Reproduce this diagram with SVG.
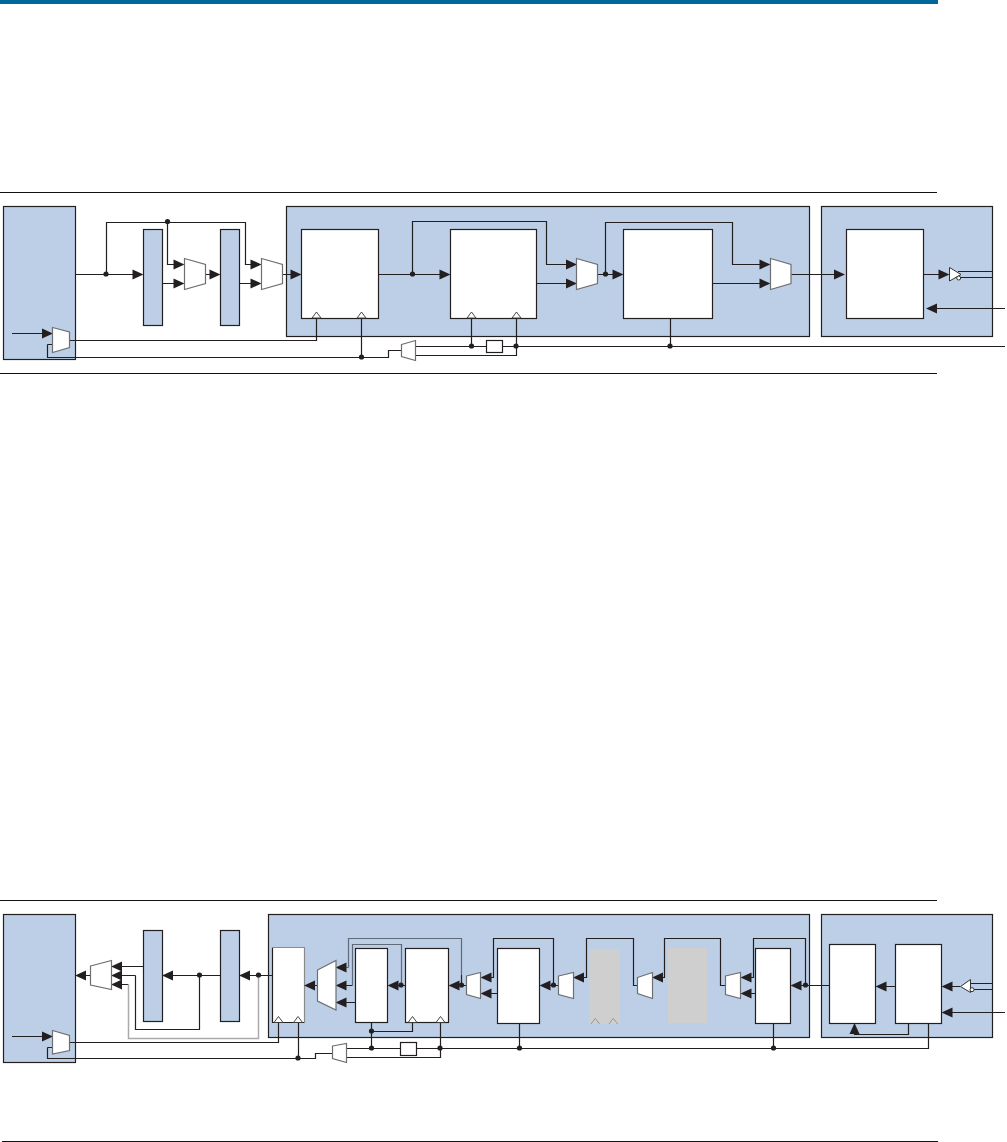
<svg xmlns="http://www.w3.org/2000/svg" width="1007" height="1142" viewBox="0 0 1007 1142">
<style>
.rule{stroke:#111;stroke-width:1.1;fill:none}
.p{fill:#bdcfe6;stroke:#231f20;stroke-width:1.2}
.b{fill:#fff;stroke:#231f20;stroke-width:1.2}
.m{fill:#fff;stroke:#6d6e71;stroke-width:1.2}
.k{fill:#fff;stroke:#333;stroke-width:1}
.w{fill:none;stroke:#231f20;stroke-width:1.2}
.g{fill:none;stroke:#aaa;stroke-width:1.5}
.d{fill:none;stroke:#5f6b78;stroke-width:1.2}
.c{fill:#fff;stroke:#333;stroke-width:.9}
.gb{fill:#cfcfcf;stroke:none}
.gc{fill:none;stroke:#999;stroke-width:1}
.dot{fill:#231f20}
.a{fill:#231f20}
</style>
<defs>
<circle id="dot" r="2.6" class="dot"/>
<polygon id="ar" class="a" points="0.5,0 -10.5,-5 -10.5,5"/>
<polygon id="al" class="a" points="-0.5,0 10.5,-5 10.5,5"/>
<polygon id="au" class="a" points="0,-0.5 -5,10.5 5,10.5"/>
<polygon id="clk" class="c" points="-4.5,0 0,-6 4.5,0"/>
</defs>

<rect id="top-band" x="0" y="0" width="938" height="4" fill="#00679a"/>
<g id="rules">
<path class="rule" d="M0 192.5H937M0 373.5H937M0 900.5H937M2 1141.5H938"/>
</g>

<g id="top-diagram">
<g id="t-left"><rect class="p" x="3.5" y="206.5" width="72" height="153"/></g>
<g id="t-block1"><rect class="p" x="143.5" y="229.5" width="19" height="96"/></g>
<g id="t-block2"><rect class="p" x="220.5" y="229.5" width="19" height="96"/></g>
<g id="t-panel1"><rect class="p" x="286.5" y="206.5" width="523" height="130"/></g>
<g id="t-panel2"><rect class="p" x="821.5" y="206.5" width="171" height="130"/></g>
<g id="t-box1"><rect class="b" x="301.5" y="229.5" width="77" height="89"/></g>
<g id="t-box2"><rect class="b" x="450.5" y="229.5" width="86" height="89"/></g>
<g id="t-box3"><rect class="b" x="623.5" y="229.5" width="89" height="89"/></g>
<g id="t-box4"><rect class="b" x="846.5" y="229.5" width="77" height="89"/></g>

<g id="t-connectors">
<path class="w" d="M75.5 274.5H134M106.5 274.5V222.5H245.5V264.5H252M167.5 222.5V264.5H175M162.5 283.5H175M205.5 274.5H211M239.5 283.5H252M282.5 274.5H292"/>
<path class="w" d="M12 333.5H43M70 340.5H316.5V318M47.5 344.5H52.5M47.5 344.5V357.5H388.5V350.5H401.5M361.5 357.5V318"/>
<path class="w" d="M415.5 346.5H486.5M502.5 346.5H1005M415.5 355.5H516.5V318M471.5 346.5V318M670.5 346.5V318"/>
<path class="w" d="M378.5 274.5H441M412.5 274.5V221.5H546.5V264.5H567M536.5 283.5H567M597.5 274.5H614M605.5 274.5V222.5H732.5V264.5H761M712.5 283.5H761M791.5 274.5H835M923.5 274.5H940M1005 308.5H936M958 271.5H992.5M960 277.5H992.5"/>
<use href="#ar" x="143" y="274.5"/>
<use href="#ar" x="184" y="264.5"/>
<use href="#ar" x="184" y="283.5"/>
<use href="#ar" x="220" y="274.5"/>
<use href="#ar" x="261" y="264.5"/>
<use href="#ar" x="261" y="283.5"/>
<use href="#ar" x="301" y="274.5"/>
<use href="#ar" x="52.5" y="333.5"/>
<use href="#ar" x="450" y="274.5"/>
<use href="#ar" x="576.5" y="264.5"/>
<use href="#ar" x="576.5" y="283.5"/>
<use href="#ar" x="623" y="274.5"/>
<use href="#ar" x="770" y="264.5"/>
<use href="#ar" x="770" y="283.5"/>
<use href="#ar" x="844.5" y="274.5"/>
<use href="#ar" x="949" y="274.5"/>
<use href="#al" x="926.5" y="308.5"/>
<use href="#dot" x="106" y="274"/>
<use href="#dot" x="167.5" y="221.5"/>
<use href="#dot" x="361.5" y="357"/>
<use href="#dot" x="412.5" y="274"/>
<use href="#dot" x="605.5" y="274"/>
<use href="#dot" x="471.5" y="346"/>
<use href="#dot" x="516" y="346"/>
<use href="#dot" x="670" y="346"/>
<use href="#clk" x="316.5" y="318"/>
<use href="#clk" x="361.5" y="318"/>
<use href="#clk" x="471.5" y="318"/>
<use href="#clk" x="516.5" y="318"/>
</g>
<g id="t-mux1"><polygon class="m" points="184.5,258.5 205.5,264.5 205.5,283.5 184.5,289.5"/></g>
<g id="t-mux2"><polygon class="m" points="261.5,258.5 282.5,264.5 282.5,283.5 261.5,289.5"/></g>
<g id="t-mux3"><polygon class="m" points="576.5,258.5 597.5,264.5 597.5,283.5 576.5,289.5"/></g>
<g id="t-mux4"><polygon class="m" points="770.5,258.5 791,264.5 791,283.5 770.5,289.5"/></g>
<g id="t-mux5"><polygon class="m" points="52.5,327.5 69.5,332 69.5,347.5 52.5,352.5"/></g>
<g id="t-mux6"><polygon class="m" points="401.5,344.5 415.5,340.5 415.5,360.5 401.5,356.5"/></g>
<g id="t-delay"><rect class="b" x="486.5" y="340.5" width="16" height="12"/></g>
<g id="t-buffer"><polygon class="k" points="949.5,267.5 961,274.5 949.5,281"/><circle class="k" cx="958.7" cy="278" r="2"/></g>
</g>

<g id="bottom-diagram">
<g id="b-left"><rect class="p" x="3.5" y="914.5" width="72" height="148"/></g>
<g id="b-block1"><rect class="p" x="143.5" y="930.5" width="19" height="91"/></g>
<g id="b-block2"><rect class="p" x="220.5" y="930.5" width="19" height="91"/></g>
<g id="b-panel1"><rect class="p" x="268.5" y="914.5" width="541" height="123"/></g>
<g id="b-panel2"><rect class="p" x="821.5" y="914.5" width="171" height="123"/></g>
<g id="b-boxA"><rect x="272.5" y="947.5" width="32" height="75" fill="#fff"/><path class="w" d="M272.5 947.5V1022.5H304.5"/><path fill="none" stroke="#8a8a8a" stroke-width="1.2" d="M272 947.5H304.5V1022.5"/></g>
<g id="b-boxB"><rect class="b" x="355.5" y="948.5" width="32" height="74"/></g>
<g id="b-boxC"><rect class="b" x="405.5" y="948.5" width="43" height="74"/></g>
<g id="b-boxD"><rect class="b" x="497.5" y="948.5" width="42" height="75"/></g>
<g id="b-grey1"><rect class="gb" x="589" y="949" width="31" height="75"/><path class="gc" d="M591 1024L595.3 1018.3 599.5 1024M609 1024L613.3 1018.3 617.7 1024"/></g>
<g id="b-grey2"><rect class="gb" x="668" y="948" width="39" height="75"/></g>
<g id="b-boxE"><rect class="b" x="755.5" y="948.5" width="35" height="75"/></g>
<g id="b-boxF"><rect class="b" x="829.5" y="944.5" width="46" height="79"/></g>
<g id="b-boxG"><rect class="b" x="895.5" y="944.5" width="46" height="79"/></g>

<g id="b-connectors">
<path class="w" d="M86 975.5H90.5M143.5 966.5H121M135.5 975.5H121M135.5 975.5V1029.5H199.5V975.5M128.5 984.5H121"/>
<path class="g" d="M128.5 984.5V1038.5H258.5V975.5"/>
<path class="w" d="M272.5 975.5H249M220.5 975.5H172"/>
<path class="w" d="M12 1036.5H43M70 1042.5H278.5V1023M47.5 1047.5H52.5M47.5 1047.5V1058.5H315.5V1053.5H332.5M298.5 1058.5V1023"/>
<path class="w" d="M317 985.5H314M355.5 1002.5H346M352.5 985.5H346"/>
<path class="d" d="M352.5 985.5V944.5H401.5V985.5M348.5 967.5H346M348.5 967.5V938.5H461.5V975"/>
<path class="w" d="M461.5 975V985.5M405.5 985.5H397M466.5 985.5H458"/>
<path class="w" d="M491 977.5H493.5V938.5H553.5V985.5M497.5 993.5H491M558.5 985.5H549M583 977.5H586.5V938.5H633.5V985.5H638M662 977.5H664.5V938.5H720.5V985.5H726M750 977.5H753.5V938.5H805.5V985.5M755.5 993.5H750M829.5 985.5H801"/>
<path class="w" d="M895.5 986.5H886M960 986.5H951M970 983.5H992.5M974 989.5H992.5M1005 1012.5H951"/>
<path class="w" d="M854.5 1030V1034.5H908.5V1023.5M928.5 1023.5V1048.5H416.5M400.5 1048.5H346.5M346.5 1057.5H440.5V1023M371.5 1022.5V1048.5M371.5 1031.5H412.5V1023M519.5 1023.5V1048.5M773.5 1023.5V1048.5"/>
<use href="#al" x="75.5" y="975.5"/>
<use href="#al" x="111.5" y="966.5"/>
<use href="#al" x="111.5" y="975.5"/>
<use href="#al" x="111.5" y="984.5"/>
<use href="#al" x="162.5" y="975.5"/>
<use href="#al" x="239.5" y="975.5"/>
<use href="#al" x="304.5" y="985.5"/>
<use href="#al" x="336" y="967.5"/>
<use href="#al" x="336" y="985.5"/>
<use href="#al" x="336" y="1002.5"/>
<use href="#al" x="388" y="985.5"/>
<use href="#al" x="449" y="985.5"/>
<use href="#al" x="481" y="977.5"/>
<use href="#al" x="481" y="993.5"/>
<use href="#al" x="540" y="985.5"/>
<use href="#al" x="573.5" y="977.5"/>
<use href="#al" x="652.5" y="977.5"/>
<use href="#al" x="741" y="977.5"/>
<use href="#al" x="741" y="993.5"/>
<use href="#al" x="791" y="985.5"/>
<use href="#al" x="876" y="986.5"/>
<use href="#al" x="942" y="986.5"/>
<use href="#al" x="942" y="1012.5"/>
<use href="#au" x="854.5" y="1023.5"/>
<use href="#ar" x="52.5" y="1036.5"/>
<use href="#dot" x="199.5" y="975"/>
<use href="#dot" x="258.5" y="975"/>
<use href="#dot" x="401" y="985"/>
<use href="#dot" x="461.5" y="985"/>
<use href="#dot" x="553.5" y="985"/>
<use href="#dot" x="805.5" y="985"/>
<use href="#dot" x="298" y="1058"/>
<use href="#dot" x="371.5" y="1031"/>
<use href="#dot" x="371.5" y="1048"/>
<use href="#dot" x="440" y="1048"/>
<use href="#dot" x="519.5" y="1048"/>
<use href="#dot" x="773.5" y="1048"/>
<use href="#clk" x="278.5" y="1022.5"/>
<use href="#clk" x="298" y="1022.5"/>
<use href="#clk" x="412.5" y="1022.5"/>
<use href="#clk" x="440.5" y="1022.5"/>
</g>
<g id="b-mux1"><polygon class="m" points="90.5,966 111.5,960.5 111.5,989.5 90.5,985"/></g>
<g id="b-mux2"><polygon class="m" points="52.5,1030.5 69.5,1035.5 69.5,1050.5 52.5,1054"/></g>
<g id="b-mux3"><polygon class="m" points="317.5,970 336,960.5 336,1010 317.5,1001"/></g>
<g id="b-mux4"><polygon class="m" points="466.5,976 480.5,972.5 480.5,998.5 466.5,994.5"/></g>
<g id="b-mux5"><polygon class="m" points="558.5,976 573.5,972.5 573.5,998.5 558.5,994.5"/></g>
<g id="b-mux6"><polygon class="m" points="637.5,977.5 652.5,972.5 652.5,998.5 637.5,993.5"/></g>
<g id="b-mux7"><polygon class="m" points="725.5,976 740.5,972.5 740.5,998.5 725.5,994.5"/></g>
<g id="b-mux8"><polygon class="m" points="332.5,1046 346.5,1043.5 346.5,1062.5 332.5,1058.5"/></g>
<g id="b-delay"><rect class="b" x="400.5" y="1042.5" width="16" height="13"/></g>
<g id="b-buffer"><polygon class="k" points="960.5,986.5 970.5,979.5 970.5,992.5"/><circle class="k" cx="972" cy="989.7" r="2"/></g>
</g>
</svg>
